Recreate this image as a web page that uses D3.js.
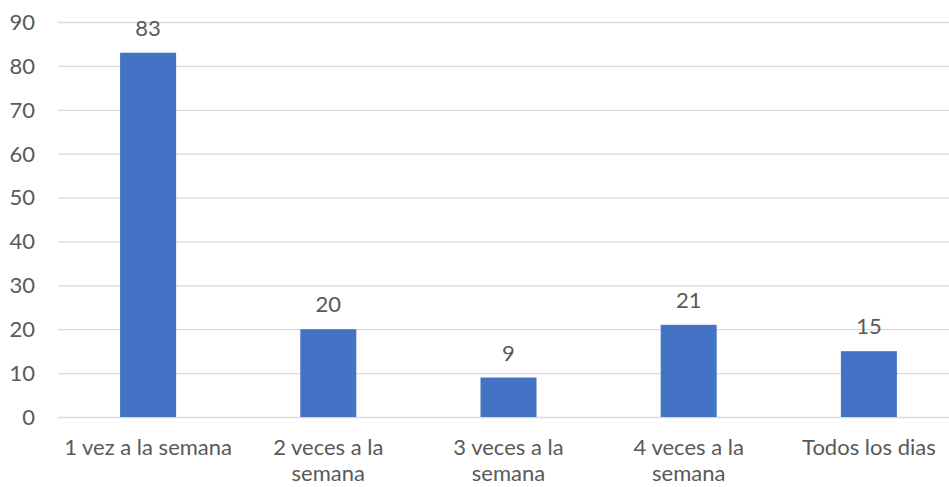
<!DOCTYPE html>
<html><head><meta charset="utf-8">
<script src="https://cdn.jsdelivr.net/npm/d3@7"></script>
<style>
html,body{margin:0;padding:0;background:#fff;overflow:hidden;}
text{font-family:Lato,"Open Sans",sans-serif;fill:#595959;}
</style></head>
<body>
<svg id="chart" width="949" height="487"></svg>
<script>
const categories = [["1 vez a la semana"], ["2 veces a la", "semana"], ["3 veces a la", "semana"], ["4 veces a la", "semana"], ["Todos los dias"]];
const values = [83, 20, 9, 21, 15];
const yTicks = [0, 10, 20, 30, 40, 50, 60, 70, 80, 90];

const svg = d3.select("#chart");
const fs = 22;
const x = d3.scaleBand().domain(d3.range(categories.length)).range([58, 959]).paddingInner(0.69).paddingOuter(0.345);
const y = d3.scaleLinear().domain([0, 90]).range([417, 22]);

// gridlines
svg.append("g").selectAll("line").data(yTicks).join("line")
  .attr("x1", 58).attr("x2", 949)
  .attr("y1", d => y(d) + 0.5).attr("y2", d => y(d) + 0.5)
  .attr("stroke", "#d9d9d9").attr("stroke-width", 1.3);

// y labels
svg.append("g").selectAll("text").data(yTicks).join("text")
  .attr("x", 35).attr("y", d => y(d)).attr("dy", "0.36em")
  .attr("text-anchor", "end").attr("font-size", fs).text(d => d);

// bars
const bw = 56;
svg.append("g").selectAll("rect").data(values).join("rect")
  .attr("x", (d, i) => x(i) + x.bandwidth() / 2 - bw / 2)
  .attr("width", bw)
  .attr("y", d => y(d)).attr("height", d => y(0) - y(d))
  .attr("fill", "#4472c4");

// data labels
svg.append("g").selectAll("text").data(values).join("text")
  .attr("x", (d, i) => x(i) + x.bandwidth() / 2)
  .attr("y", d => y(d) - 17)
  .attr("text-anchor", "middle").attr("font-size", fs).text(d => d);

// category labels
const cg = svg.append("g").selectAll("text").data(categories).join("text")
  .attr("x", (d, i) => x(i) + x.bandwidth() / 2)
  .attr("y", 455).attr("text-anchor", "middle").attr("font-size", fs);
cg.selectAll("tspan").data(d => d).join("tspan")
  .attr("x", function() { return d3.select(this.parentNode).attr("x"); })
  .attr("dy", (d, i) => i === 0 ? 0 : 26).text(d => d);
</script>
</body></html>
